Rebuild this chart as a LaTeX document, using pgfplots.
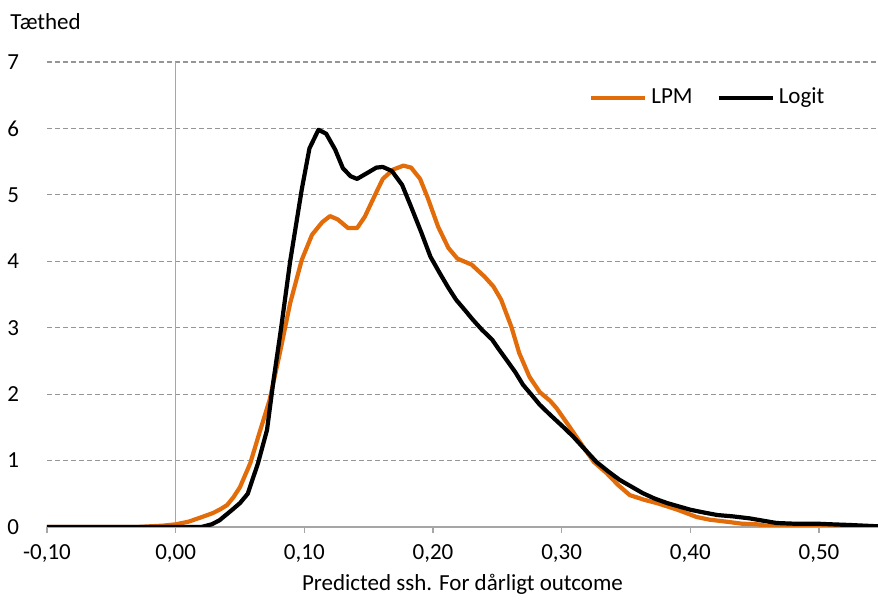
\documentclass[border=0pt]{standalone}
\usepackage{pgfplots}
\pgfplotsset{compat=1.18}
\usepackage{fontspec}
\setmainfont{Carlito}
\definecolor{lpm}{RGB}{227,108,10}
\definecolor{axgray}{RGB}{166,166,166}
\definecolor{gridgray}{RGB}{150,150,150}
\begin{document}
\begin{tikzpicture}
\fontsize{11.5}{13.5}\selectfont
\begin{axis}[
  scale only axis,
  width=415.5pt, height=232.5pt,
  xmin=-0.10, xmax=0.5459,
  ymin=0, ymax=7,
  axis x line*=bottom, axis y line*=left,
  separate axis lines,
  x axis line style={axgray, line width=0.8pt, -},
  y axis line style={draw=none},
  xtick={-0.1,0,0.1,0.2,0.3,0.4,0.5},
  xticklabels={{-0,10},{0,00},{0,10},{0,20},{0,30},{0,40},{0,50}},
  ytick={0,1,2,3,4,5,6,7},
  tick align=outside,
  xtick style={axgray, line width=0.8pt},
  major tick length=3pt,
  ytick style={draw=none},
  ymajorgrids,
  grid style={gridgray, line width=0.6pt, dash pattern=on 2.4pt off 1.6pt},
  /pgf/number format/assume math mode=true,
  ticklabel style={font=\fontsize{11.5}{13.5}\selectfont},
  yticklabel style={xshift=-7pt},
  xticklabel style={yshift=-2pt},
  xlabel={Predicted ssh. For dårligt outcome},
  xlabel style={font=\fontsize{11.5}{13.5}\selectfont, yshift=2pt},
  legend style={draw=none, fill=none, at={(rel axis cs:0.948,0.923)}, anchor=east,
    legend columns=2, font=\fontsize{11.5}{13.5}\selectfont,
    /tikz/every even column/.append style={column sep=10pt}},
  legend image code/.code={\draw[#1] (0pt,0pt) -- (27pt,0pt);},
  clip=true,
]
\addplot[axgray, line width=0.8pt, forget plot] coordinates {(0,0) (0,7)};
\addplot[lpm, line width=2.1pt, line join=round] coordinates {
(-0.10,0) (-0.03,0) (-0.02,0.01) (-0.01,0.02) (0.00,0.04) (0.010,0.08) (0.019,0.14)
(0.029,0.21) (0.035,0.27) (0.040,0.33) (0.045,0.45) (0.050,0.6) (0.058,0.96)
(0.065,1.41) (0.073,1.91) (0.081,2.62) (0.089,3.37) (0.098,4.02) (0.106,4.4)
(0.114,4.59) (0.120,4.68) (0.126,4.63) (0.134,4.5) (0.141,4.5) (0.147,4.67)
(0.155,5.0) (0.161,5.24) (0.169,5.38) (0.177,5.44) (0.183,5.41) (0.190,5.24)
(0.196,4.95) (0.204,4.52) (0.212,4.2) (0.219,4.04) (0.230,3.95) (0.240,3.77)
(0.247,3.62) (0.253,3.42) (0.261,3.01) (0.267,2.62) (0.275,2.26) (0.283,2.03)
(0.291,1.9) (0.296,1.79) (0.305,1.54) (0.317,1.2) (0.325,0.98) (0.335,0.81)
(0.344,0.63) (0.353,0.48) (0.364,0.41) (0.374,0.36) (0.390,0.26) (0.405,0.15)
(0.415,0.11) (0.428,0.08) (0.440,0.05) (0.452,0.04) (0.462,0.01) (0.472,0.03)
(0.490,0.02) (0.520,0.01) (0.546,0.0)
};
\addlegendentry{LPM}
\addplot[black, line width=2.1pt, line join=round] coordinates {
(-0.10,0) (0.02,0) (0.028,0.04) (0.034,0.1) (0.044,0.26) (0.050,0.36) (0.056,0.5)
(0.064,0.96) (0.071,1.46) (0.076,2.2) (0.082,3.0) (0.089,4.0) (0.094,4.6)
(0.098,5.08) (0.104,5.7) (0.111,5.98) (0.117,5.92) (0.124,5.68) (0.130,5.4)
(0.136,5.28) (0.141,5.24) (0.149,5.33) (0.156,5.41) (0.161,5.42) (0.168,5.36)
(0.176,5.15) (0.183,4.82) (0.191,4.43) (0.198,4.07) (0.205,3.83) (0.212,3.6)
(0.218,3.42) (0.225,3.26) (0.231,3.12) (0.238,2.97) (0.246,2.82) (0.251,2.68)
(0.257,2.52) (0.264,2.33) (0.270,2.14) (0.277,1.98) (0.283,1.84) (0.291,1.69)
(0.301,1.51) (0.309,1.36) (0.317,1.19) (0.327,0.98) (0.336,0.84) (0.345,0.71)
(0.354,0.61) (0.363,0.51) (0.372,0.43) (0.382,0.36) (0.391,0.31) (0.400,0.26)
(0.410,0.22) (0.421,0.18) (0.433,0.16) (0.446,0.13) (0.455,0.1) (0.467,0.06)
(0.480,0.05) (0.498,0.05) (0.510,0.04) (0.524,0.03) (0.546,0.01)
};
\addlegendentry{Logit}
\coordinate (sw) at (rel axis cs:0,0);
\coordinate (ne) at (rel axis cs:1,1);
\coordinate (nw) at (rel axis cs:0,1);
\end{axis}
\node[anchor=base west, inner sep=0pt] at ([shift={(-18.5pt,16pt)}]nw) {Tæthed};
\pgfresetboundingbox
\path ([shift={(-23.5pt,-37.5pt)}]sw) rectangle ([shift={(0pt,31pt)}]ne);
\end{tikzpicture}
\end{document}
